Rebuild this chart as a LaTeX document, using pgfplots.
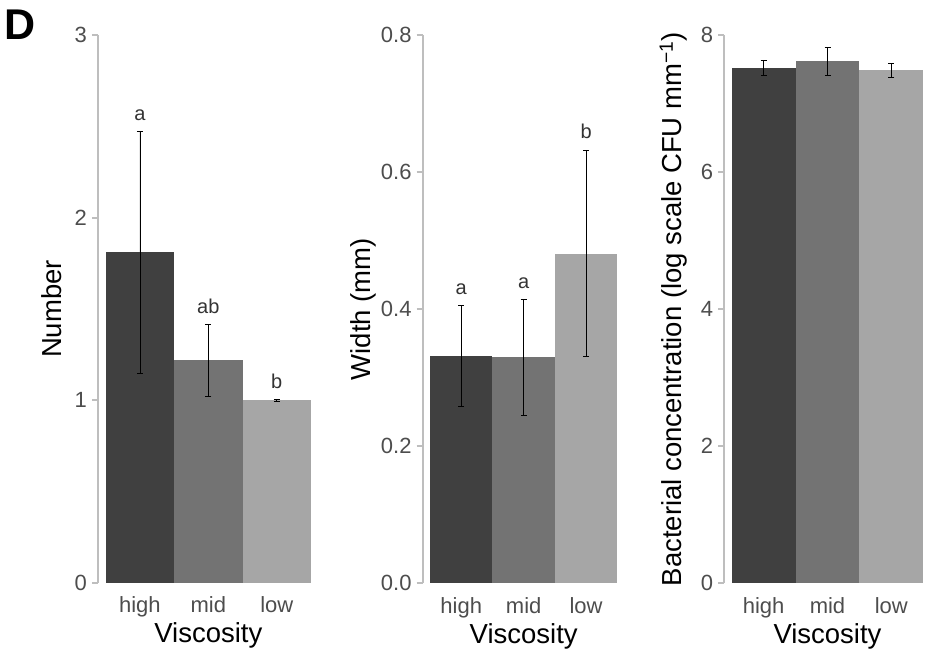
\documentclass[border=0pt]{standalone}
\usepackage{pgfplots}
\pgfplotsset{compat=1.18}
\usepackage{fontspec}
\setmainfont{Liberation Sans}
\definecolor{cHigh}{HTML}{404040}
\definecolor{cMid}{HTML}{737373}
\definecolor{cLow}{HTML}{A6A6A6}
\definecolor{axgray}{HTML}{BEBEBE}
\definecolor{tickgray}{HTML}{4D4D4D}
\definecolor{lettgray}{HTML}{333333}
\pgfplotsset{
  panel/.style={
    anchor=south west, scale only axis,
    axis lines*=left,
    x axis line style={draw=none},
    y axis line style={draw=axgray, line width=2pt},
    xtick={1,2,3}, xticklabels={high,mid,low},
    major x tick style={draw=none},
    major y tick style={draw=axgray, line width=2pt},
    tick align=outside, major tick length=6pt,
    /pgf/number format/assume math mode=true,
    ticklabel style={font=\fontsize{22}{26}\selectfont, text=tickgray},
    yticklabel style={anchor=east, inner sep=0pt, xshift=-5pt},
    xticklabel style={anchor=base, inner sep=0pt, yshift=-24pt},
    xlabel={Viscosity},
    xlabel style={font=\fontsize{27.5}{32}\selectfont, at={(axis description cs:0.5,0)}, anchor=base, yshift=-60pt},
    ylabel style={font=\fontsize{27.5}{32}\selectfont, anchor=base, rotate=0},
    clip=false,
    error bars/y dir=both, error bars/y explicit,
    error bars/error bar style={draw=black, line width=0.7pt},
    error bars/error mark options={draw=black, line width=0.7pt, mark size=3pt, rotate=90},
  },
  onebar/.style={ybar, bar width=1, bar shift=0pt, draw=none, fill=#1},
}
\begin{document}
\begin{tikzpicture}[x=1pt,y=1pt]
\path[use as bounding box] (0,0) rectangle (938,653);
\node[anchor=base west, inner sep=0pt, font=\fontsize{43}{48}\selectfont\bfseries] at (4,613.7) {D};
% Panel 1
\begin{axis}[panel, at={(98pt,70pt)}, width=220.7pt, height=548pt,
  xmin=0.3875, xmax=3.6125, ymin=0, ymax=3, ytick={0,1,2,3},
  ylabel={Number},
  ylabel style={at={(axis description cs:-0.1645,0.5)}}]
\addplot[onebar=cHigh] coordinates {(1,1.81) +- (0,0.663)};
\addplot[onebar=cMid] coordinates {(2,1.219) +- (0,0.197)};
\addplot[onebar=cLow] coordinates {(3,1.0) +- (0,0.003)};
\node[anchor=base, inner sep=0pt, text=lettgray, font=\fontsize{20}{24}\selectfont] at (axis cs:1,2.534) {a};
\node[anchor=base, inner sep=0pt, text=lettgray, font=\fontsize{20}{24}\selectfont] at (axis cs:2,1.476) {ab};
\node[anchor=base, inner sep=0pt, text=lettgray, font=\fontsize{20}{24}\selectfont] at (axis cs:3,1.066) {b};
\end{axis}
% Panel 2
\begin{axis}[panel, at={(422.7pt,69.7pt)}, width=201.9pt, height=548.3pt,
  xmin=0.383, xmax=3.617, ymin=0, ymax=0.8, ytick={0,0.2,0.4,0.6,0.8},
  yticklabel style={/pgf/number format/fixed, /pgf/number format/fixed zerofill, /pgf/number format/precision=1},
  ylabel={Width (mm)},
  ylabel style={at={(axis description cs:-0.261,0.5)}}]
\addplot[onebar=cHigh] coordinates {(1,0.332) +- (0,0.0735)};
\addplot[onebar=cMid] coordinates {(2,0.330) +- (0,0.0845)};
\addplot[onebar=cLow] coordinates {(3,0.481) +- (0,0.1505)};
\node[anchor=base, inner sep=0pt, text=lettgray, font=\fontsize{20}{24}\selectfont] at (axis cs:1,0.4209) {a};
\node[anchor=base, inner sep=0pt, text=lettgray, font=\fontsize{20}{24}\selectfont] at (axis cs:2,0.4307) {a};
\node[anchor=base, inner sep=0pt, text=lettgray, font=\fontsize{20}{24}\selectfont] at (axis cs:3,0.6496) {b};
\end{axis}
% Panel 3
\begin{axis}[panel, at={(724.3pt,69.7pt)}, width=206.4pt, height=548.3pt,
  xmin=0.384, xmax=3.616, ymin=0, ymax=8, ytick={0,2,4,6,8},
  ylabel={Bacterial concentration (log scale CFU mm\textsuperscript{−1})},
  ylabel style={at={(axis description cs:-0.205,0.5)}}]
\addplot[onebar=cHigh] coordinates {(1,7.52) +- (0,0.105)};
\addplot[onebar=cMid] coordinates {(2,7.615) +- (0,0.20)};
\addplot[onebar=cLow] coordinates {(3,7.485) +- (0,0.105)};
\end{axis}
\end{tikzpicture}
\end{document}
